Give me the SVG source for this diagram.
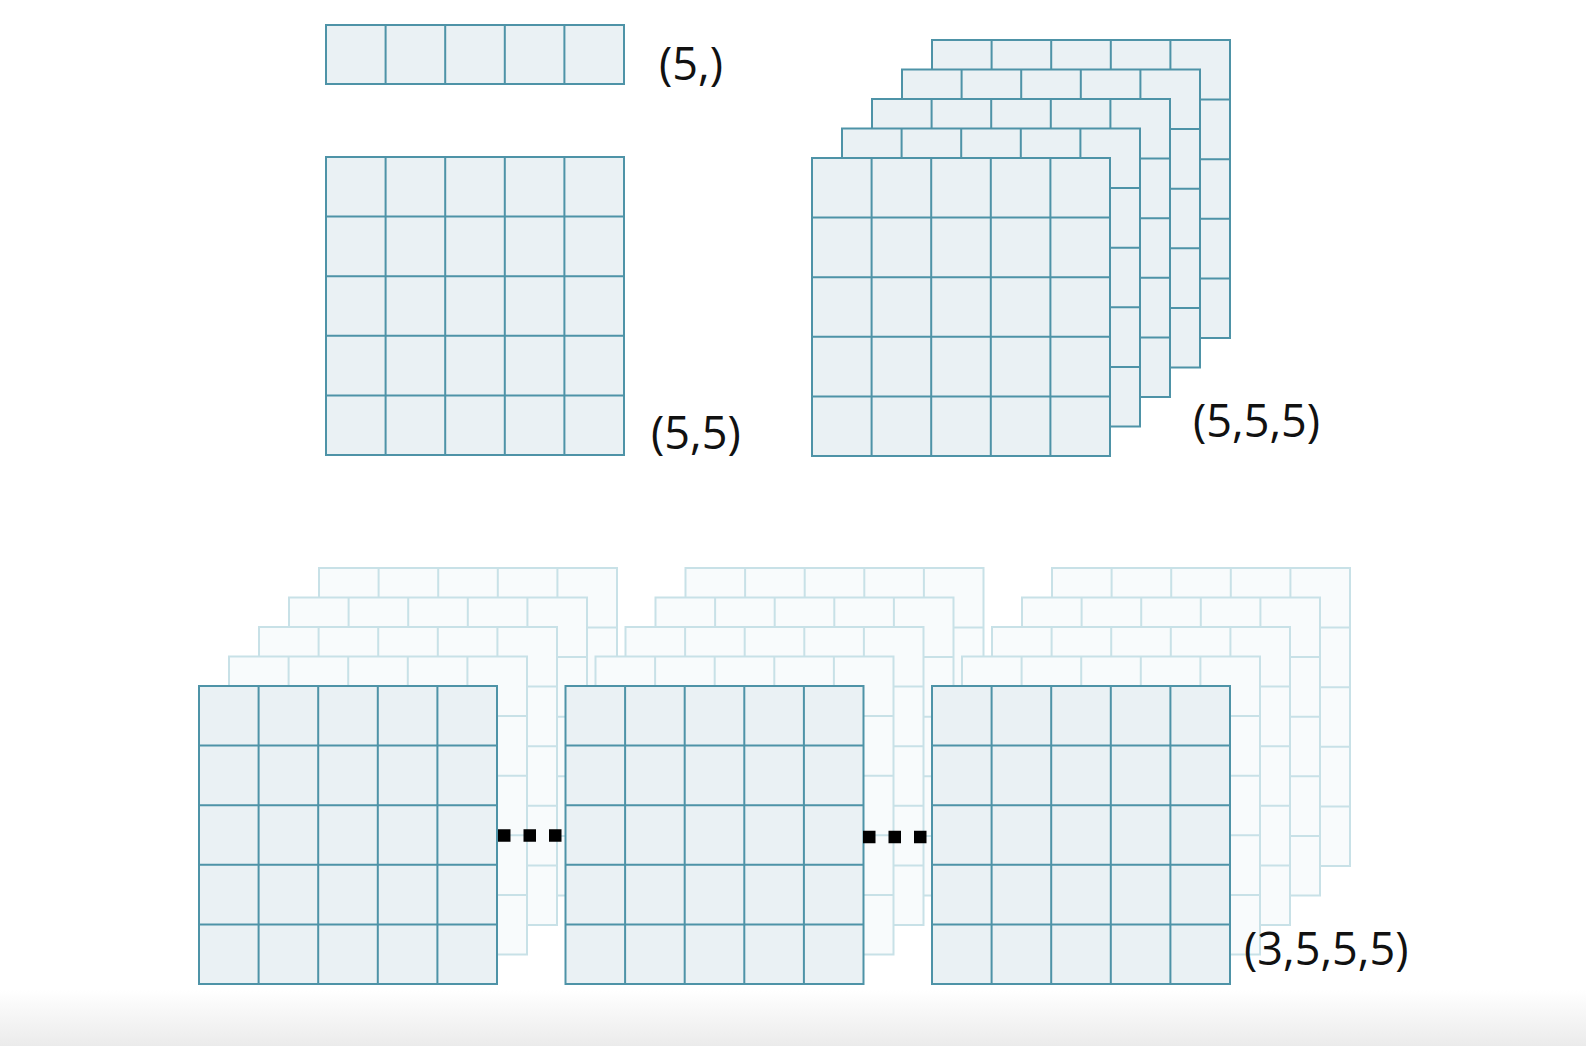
<svg xmlns="http://www.w3.org/2000/svg" xmlns:xlink="http://www.w3.org/1999/xlink" width="1586" height="1046" viewBox="0 0 1586 1046">
  <style>
    .front { fill: #eaf1f4; stroke: #4e93a7; stroke-width: 2; }
    .back { fill: #f8fbfc; stroke: #c8e1e7; stroke-width: 2; }
    .label { font-family: "Open Sans", "Liberation Sans", sans-serif; font-size: 45px; fill: #111111; }
    .dots { stroke: #000000; stroke-width: 12.5; stroke-dasharray: 12.5 13; fill: none; }
  </style>
  <defs>
    <linearGradient id="floor" x1="0" y1="0" x2="0" y2="1">
      <stop offset="0" stop-color="#ffffff"/>
      <stop offset="1" stop-color="#ebebeb"/>
    </linearGradient>
    <symbol id="grid" overflow="visible">
      <rect x="0" y="0" width="298" height="298"/>
      <path d="M59.6 0V298M119.2 0V298M178.8 0V298M238.4 0V298M0 59.6H298M0 119.2H298M0 178.8H298M0 238.4H298"/>
    </symbol>
    <symbol id="row" overflow="visible">
      <rect x="0" y="0" width="298" height="59"/>
      <path d="M59.6 0V59M119.2 0V59M178.8 0V59M238.4 0V59"/>
    </symbol>
  </defs>
  <rect x="0" y="0" width="1586" height="1046" fill="#ffffff"/>
  <rect x="0" y="990" width="1586" height="56" fill="url(#floor)"/>

  <g id="vector">
    <use xlink:href="#row" class="front" x="326" y="25"/>
    <text class="label" x="659" y="80">(5,)</text>
  </g>

  <g id="matrix">
    <use xlink:href="#grid" class="front" x="326" y="157"/>
    <text class="label" x="651" y="449">(5,5)</text>
  </g>

  <g id="tensor3">
    <use xlink:href="#grid" class="front" x="932" y="40"/>
    <use xlink:href="#grid" class="front" x="902" y="69.5"/>
    <use xlink:href="#grid" class="front" x="872" y="99"/>
    <use xlink:href="#grid" class="front" x="842" y="128.5"/>
    <use xlink:href="#grid" class="front" x="812" y="158"/>
    <text class="label" x="1193" y="437">(5,5,5)</text>
  </g>

  <g id="tensor4-a">
    <use xlink:href="#grid" class="back" x="319" y="568"/>
    <use xlink:href="#grid" class="back" x="289" y="597.5"/>
    <use xlink:href="#grid" class="back" x="259" y="627"/>
    <use xlink:href="#grid" class="back" x="229" y="656.5"/>
    <use xlink:href="#grid" class="front" x="199" y="686"/>
  </g>
  <g id="tensor4-b">
    <use xlink:href="#grid" class="back" x="685.5" y="568"/>
    <use xlink:href="#grid" class="back" x="655.5" y="597.5"/>
    <use xlink:href="#grid" class="back" x="625.5" y="627"/>
    <use xlink:href="#grid" class="back" x="595.5" y="656.5"/>
    <use xlink:href="#grid" class="front" x="565.5" y="686"/>
  </g>
  <g id="tensor4-c">
    <use xlink:href="#grid" class="back" x="1052" y="568"/>
    <use xlink:href="#grid" class="back" x="1022" y="597.5"/>
    <use xlink:href="#grid" class="back" x="992" y="627"/>
    <use xlink:href="#grid" class="back" x="962" y="656.5"/>
    <use xlink:href="#grid" class="front" x="932" y="686"/>
    <text class="label" x="1244" y="965">(3,5,5,5)</text>
  </g>

  <g id="connectors">
    <line class="dots" x1="498" y1="835.5" x2="562" y2="835.5"/>
    <line class="dots" x1="863" y1="837" x2="927" y2="837"/>
  </g>
</svg>
